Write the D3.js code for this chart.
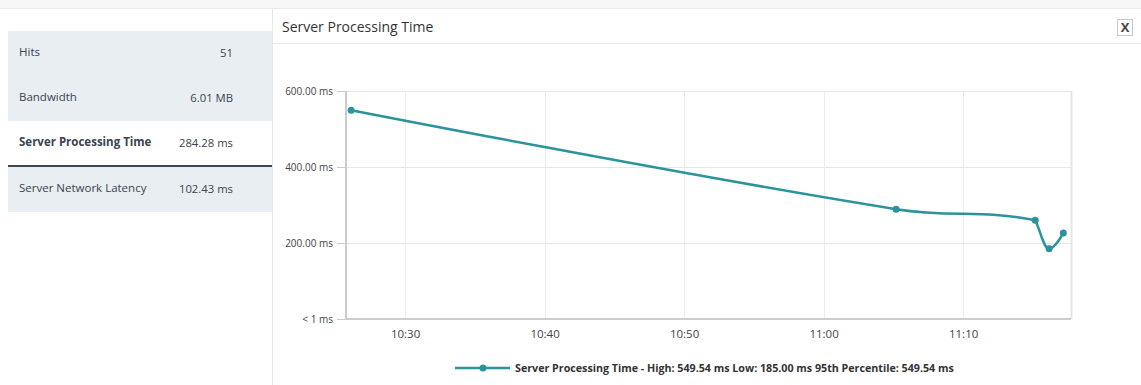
<!DOCTYPE html>
<html>
<head>
<meta charset="utf-8">
<script src="https://cdn.jsdelivr.net/npm/d3@7"></script>
<style>
  html, body { margin: 0; padding: 0; background: #fff; }
  svg { display: block; font-family: "Open Sans", sans-serif; }
</style>
</head>
<body>
<div id="chart-area"></div>
<script>
// summary rows on the left
const statLabels = ['Hits', 'Bandwidth', 'Server Processing Time', 'Server Network Latency'];
const statValues = ['51', '6.01 MB', '284.28 ms', '102.43 ms'];
const selectedStat = 2;

// series (time of sample, ms)
const times = ['10:26:08', '11:05:12', '11:15:10', '11:16:10', '11:17:11'];
const values = [549.54, 289, 260, 185, 226];

const yTicks = [0, 200, 400, 600];
const xTicks = ['10:30', '10:40', '10:50', '11:00', '11:10'];
const xDomain = ['10:25:46', '11:17:44'];

const chartTitle = 'Server Processing Time';
const legendText = 'Server Processing Time - High: 549.54 ms Low: 185.00 ms 95th Percentile: 549.54 ms';

const W = 1141, H = 385;
const teal = '#2a939b';
const parse = d3.timeParse('%H:%M:%S');
const parseHM = d3.timeParse('%H:%M');

const svg = d3.select('#chart-area').append('svg')
  .attr('width', W)
  .attr('height', H);

// top strip
svg.append('rect').attr('x', 0).attr('y', 0).attr('width', W).attr('height', 8).attr('fill', '#f5f7f9');
svg.append('line').attr('x1', 0).attr('x2', W).attr('y1', 8.5).attr('y2', 8.5).attr('stroke', '#e8ecef');

// left stat panel
const rowTop = 31, rowH = 45;
const panel = svg.append('g');
statLabels.forEach((lbl, i) => {
  const y0 = rowTop + i * rowH + (i > selectedStat ? 1 : 0);
  panel.append('rect')
    .attr('x', 8).attr('y', y0)
    .attr('width', 264).attr('height', rowH)
    .attr('fill', i === selectedStat ? '#fff' : '#e9eef2');
  panel.append('text')
    .attr('x', 19).attr('y', y0 + 25)
    .attr('font-size', '11.5px')
    .attr('font-weight', i === selectedStat ? 700 : 400)
    .attr('fill', '#3a4350')
    .text(lbl);
  panel.append('text')
    .attr('x', 233).attr('y', y0 + 26)
    .attr('text-anchor', 'end')
    .attr('font-size', '11.3px')
    .attr('fill', '#3a4350')
    .text(statValues[i]);
});
// underline of the selected row
panel.append('rect')
  .attr('x', 8).attr('y', rowTop + (selectedStat + 1) * rowH - 1)
  .attr('width', 264).attr('height', 2)
  .attr('fill', '#3c4656');

// chart panel frame
svg.append('line').attr('x1', 272.5).attr('x2', 272.5).attr('y1', 9).attr('y2', H).attr('stroke', '#e6e9ec');
svg.append('line').attr('x1', 272).attr('x2', W).attr('y1', 43.5).attr('y2', 43.5).attr('stroke', '#e6e9ec');
svg.append('text')
  .attr('x', 282).attr('y', 32)
  .attr('font-size', '14px')
  .attr('fill', '#333')
  .text(chartTitle);

// close button
const close = svg.append('g').attr('transform', 'translate(1117,19)');
close.append('rect').attr('x', 0.5).attr('y', 0.5).attr('width', 15).attr('height', 16)
  .attr('fill', '#fff').attr('stroke', '#c8c8c8');
close.append('text').attr('x', 8).attr('y', 13).attr('text-anchor', 'middle')
  .attr('font-size', '13px').attr('font-weight', 700).attr('fill', '#444').text('X');

// plot
const plot = { left: 346, right: 1071, top: 91, bottom: 319 };

const x = d3.scaleTime()
  .domain(xDomain.map(parse))
  .range([plot.left, plot.right]);

const y = d3.scaleLinear()
  .domain([0, 600])
  .range([plot.bottom, plot.top]);

const g = svg.append('g');

// gridlines
g.selectAll('.hgrid').data(yTicks).enter().append('line')
  .attr('class', 'hgrid')
  .attr('x1', plot.left).attr('x2', plot.right)
  .attr('y1', d => Math.round(y(d)) + 0.5).attr('y2', d => Math.round(y(d)) + 0.5)
  .attr('stroke', '#e6e6e6');

g.selectAll('.vgrid').data(xTicks).enter().append('line')
  .attr('class', 'vgrid')
  .attr('x1', d => Math.round(x(parseHM(d))) + 0.5).attr('x2', d => Math.round(x(parseHM(d))) + 0.5)
  .attr('y1', plot.top).attr('y2', plot.bottom)
  .attr('stroke', '#ececec');

// right border
g.append('line')
  .attr('x1', plot.right + 0.5).attr('x2', plot.right + 0.5)
  .attr('y1', plot.top).attr('y2', plot.bottom)
  .attr('stroke', '#e6e6e6').attr('stroke-width', 2);

// y axis
const yAxisGroup = g.append('g').attr('transform', `translate(${plot.left},0)`);
yAxisGroup.call(d3.axisLeft(y)
  .tickValues(yTicks)
  .tickSize(9)
  .tickPadding(4)
  .tickFormat(d => d === 0 ? '< 1 ms' : d3.format('.2f')(d) + ' ms'));
yAxisGroup.select('.domain').attr('stroke', '#cccccc').attr('stroke-width', 2).attr('d', `M0,${plot.top}V${plot.bottom}`);
yAxisGroup.selectAll('.tick line').attr('stroke', '#cccccc');
yAxisGroup.selectAll('text').attr('fill', '#444').attr('font-size', '10px').attr('font-family', '"Open Sans", sans-serif');

// x axis
const xAxisGroup = g.append('g').attr('transform', `translate(0,${plot.bottom})`);
xAxisGroup.call(d3.axisBottom(x)
  .tickValues(xTicks.map(parseHM))
  .tickSize(0)
  .tickPadding(11)
  .tickFormat(d3.timeFormat('%H:%M')));
xAxisGroup.select('.domain').attr('stroke', '#cccccc').attr('stroke-width', 2).attr('d', `M${plot.left},0H${plot.right}`);
xAxisGroup.selectAll('text').attr('fill', '#444').attr('font-size', '11.5px').attr('font-family', '"Open Sans", sans-serif');

// series: spline path built like Highcharts (smoothing 1.5)
const pts = times.map((t, i) => ({ x: x(parse(t)), y: y(values[i]) }));
const smoothing = 1.5, denom = smoothing + 1;
pts.forEach((p, i) => {
  const last = pts[i - 1], next = pts[i + 1];
  if (!last || !next) return;
  let lx = (smoothing * p.x + last.x) / denom, ly = (smoothing * p.y + last.y) / denom;
  let rx = (smoothing * p.x + next.x) / denom, ry = (smoothing * p.y + next.y) / denom;
  if (rx !== lx) {
    const corr = ((ry - ly) * (rx - p.x)) / (rx - lx) + p.y - ry;
    ly += corr; ry += corr;
  }
  if (ly > last.y && ly > p.y) { ly = Math.max(last.y, p.y); ry = 2 * p.y - ly; }
  else if (ly < last.y && ly < p.y) { ly = Math.min(last.y, p.y); ry = 2 * p.y - ly; }
  if (ry > next.y && ry > p.y) { ry = Math.max(next.y, p.y); ly = 2 * p.y - ry; }
  else if (ry < next.y && ry < p.y) { ry = Math.min(next.y, p.y); ly = 2 * p.y - ry; }
  p.lx = lx; p.ly = ly; p.rx = rx; p.ry = ry;
});
const path = d3.path();
pts.forEach((p, i) => {
  if (i === 0) { path.moveTo(p.x, p.y); return; }
  const last = pts[i - 1];
  path.bezierCurveTo(
    last.rx ?? last.x, last.ry ?? last.y,
    p.lx ?? p.x, p.ly ?? p.y,
    p.x, p.y);
});

g.append('path')
  .attr('d', path.toString())
  .attr('fill', 'none')
  .attr('stroke', teal)
  .attr('stroke-width', 2.5);

g.selectAll('.dot').data(pts).enter().append('circle')
  .attr('class', 'dot')
  .attr('cx', d => d.x)
  .attr('cy', d => d.y)
  .attr('r', 3.5)
  .attr('fill', teal);

// legend
const legend = svg.append('g').attr('transform', 'translate(455,368)');
legend.append('line').attr('x1', 0).attr('x2', 55).attr('y1', 0).attr('y2', 0)
  .attr('stroke', teal).attr('stroke-width', 2.5);
legend.append('circle').attr('cx', 28).attr('cy', 0).attr('r', 3.5).attr('fill', teal);
legend.append('text')
  .attr('x', 60).attr('y', 4)
  .attr('font-size', '10.7px')
  .attr('font-weight', 700)
  .attr('fill', '#333')
  .text(legendText);
</script>
</body>
</html>
